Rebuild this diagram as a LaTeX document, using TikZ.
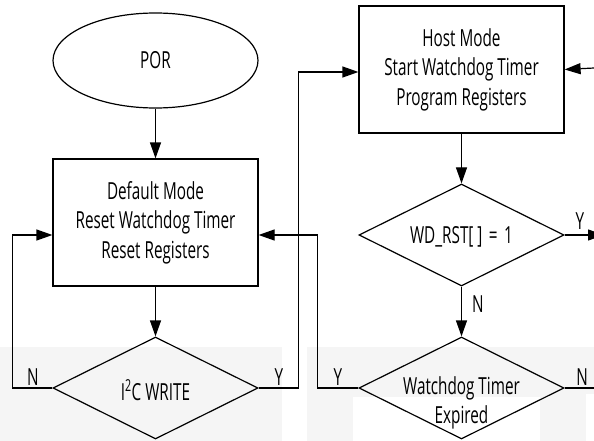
\documentclass[tikz,border=0pt]{standalone}
\usepackage{fontspec}
\setmainfont{Open Sans}[FakeStretch=0.65]
\usetikzlibrary{shapes.geometric,arrows.meta,calc}

\begin{document}
\begin{tikzpicture}[x=1pt,y=-1pt,
  every node/.style={font=\fontsize{23.5}{29.5}\selectfont},
  flow/.style={line width=1.2pt},
  arr/.style={flow,-{Triangle[length=16pt,width=11pt]}},
  startshape/.style={ellipse,draw,line width=1.2pt,minimum width=205pt,minimum height=95pt,inner sep=0pt},
  stepbox/.style={rectangle,draw,line width=1.2pt,minimum width=205pt,minimum height=127pt,inner sep=0pt,align=center},
  decision/.style={diamond,draw,line width=1.2pt,minimum width=205pt,minimum height=102pt,inner sep=0pt},
  txt/.style={align=center,inner sep=0pt},
  yn/.style={inner sep=0pt},
  wm/.style={fill=black!4}
]
\clip (0,0) rectangle (594,441);
\fill[white] (0,0) rectangle (594,441);

% faint background mark
\fill[wm] (0,347) rectangle (282,441);
\fill[wm] (307,347) rectangle (594,441);
\fill[white] (353,397) rectangle (540,441);
\fill[white] (586,394) rectangle (594,441);

% nodes
\node[startshape] (por) at (155.5,60.5) {POR};
\node[stepbox] (def) at (155.5,222.5) {Default Mode\\Reset Watchdog Timer\\Reset Registers};
\node[stepbox] (host) at (461.5,69.5) {Host Mode\\Start Watchdog Timer\\Program Registers};
\node[decision] (i2c) at (155.5,388) {};
\node[txt] (i2ct) at (155.5,390) {I\textsuperscript{2}C WRITE};
\node[decision] (wdr) at (461.5,235) {};
\node[txt] (wdrt) at (461.5,237) {WD\_RST[\,]\;=\;1};
\node[decision] (wdt) at (461.5,388) {};
\node[txt] (wdtt) at (461.5,403) {Watchdog Timer\\Expired};

% free ends at the right margin
\coordinate (hostin) at (594,68);
\coordinate (wdrout) at (604,235);
\coordinate (wdtout) at (594,388);

% connectors
\draw[arr] (por) -- (def);
\draw[arr] (def) -- (i2c);
\draw[arr] (host) -- (wdr);
\draw[arr] (wdr) -- (wdt);
\draw[arr] (i2c.west) -- ++(-40,0) |- ([yshift=-12.5pt]def.west);
\draw[arr] (i2c.east) -- ++(40,0) |- ([yshift=-2.5pt]host.west);
\draw[arr] (wdt.west) -- ++(-41,0) |- ([yshift=-12.5pt]def.east);
\draw[arr] (hostin) -- (host.east);
\draw[arr] (wdr.east) -- (wdrout);
\draw[flow] (wdt.east) -- (wdtout);

% branch labels
\node[yn] (n1) at (33,377) {N};
\node[yn] (y1) at (279,377) {Y};
\node[yn] (y2) at (338,377) {Y};
\node[yn] (n2) at (582,377) {N};
\node[yn] (y3) at (580,221) {Y};
\node[yn] (n3) at (478,304) {N};
\end{tikzpicture}
\end{document}
